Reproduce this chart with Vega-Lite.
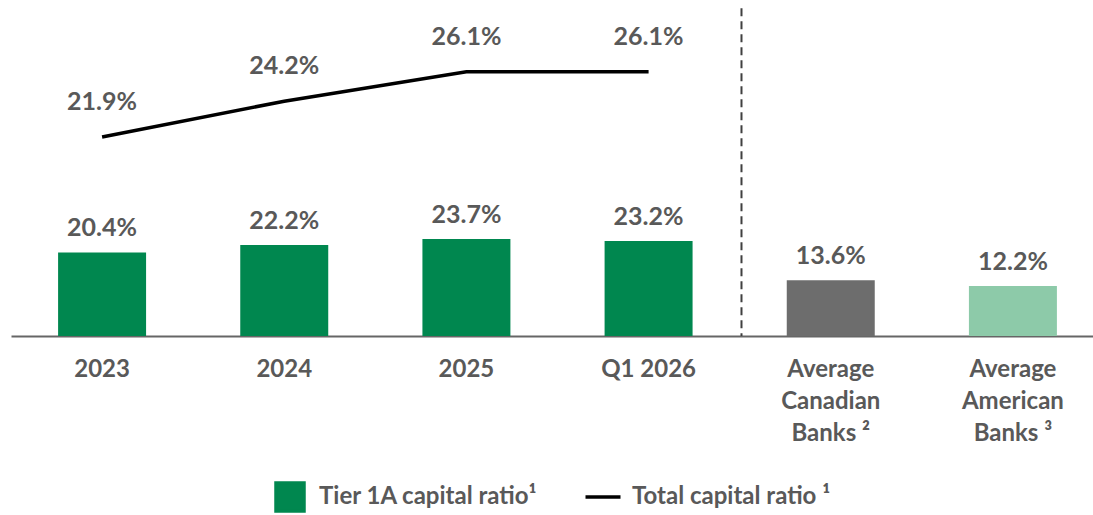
{
  "$schema": "https://vega.github.io/schema/vega-lite/v6.json",
  "autosize": {"type": "none"},
  "width": 1082,
  "height": 336,
  "padding": {"left": 11, "top": 0, "right": 0, "bottom": 179},
  "background": "white",
  "config": {
    "view": {"stroke": null},
    "font": "Lato",
    "axis": {
      "labelFont": "Lato",
      "labelFontSize": 24,
      "labelFontWeight": "bold",
      "labelColor": "#595959",
      "domainColor": "#666666",
      "domainWidth": 2,
      "ticks": false,
      "grid": false
    },
    "legend": {
      "labelFont": "Lato",
      "labelFontSize": 24,
      "labelFontWeight": "bold",
      "labelColor": "#595959",
      "labelLimit": 0,
      "layout": {"bottom": {"anchor": "middle"}}
    }
  },
  "data": {
    "values": [
      {"cat": "2023", "tier1": 0.204, "total": 0.219, "grp": "bank"},
      {"cat": "2024", "tier1": 0.222, "total": 0.242, "grp": "bank"},
      {"cat": "2025", "tier1": 0.237, "total": 0.261, "grp": "bank"},
      {"cat": "Q1 2026", "tier1": 0.232, "total": 0.261, "grp": "bank"},
      {"cat": "Average|Canadian|Banks ²", "tier1": 0.136, "total": null, "grp": "ca"},
      {"cat": "Average|American|Banks ³", "tier1": 0.122, "total": null, "grp": "us"}
    ]
  },
  "encoding": {
    "x": {
      "field": "cat",
      "type": "nominal",
      "sort": null,
      "title": null,
      "scale": {"range": [0, 1093], "paddingInner": 0, "paddingOuter": 0},
      "axis": {
        "labelAngle": 0,
        "labelPadding": 21,
        "labelLineHeight": 32,
        "labelExpr": "split(datum.label, '|')"
      }
    }
  },
  "layer": [
    {
      "layer": [
        {
          "mark": {"type": "bar", "width": {"band": 0.483}},
          "encoding": {
            "y": {
              "field": "tier1",
              "type": "quantitative",
              "scale": {"domain": [0, 0.82], "nice": false},
              "axis": null
            },
            "fill": {
              "field": "grp",
              "type": "nominal",
              "scale": {"domain": ["bank", "ca", "us"], "range": ["#00874F", "#6D6D6D", "#8DCAA9"]},
              "legend": null
            }
          }
        },
        {
          "mark": {"type": "text", "baseline": "alphabetic", "dy": -16, "fontSize": 25, "fontWeight": "bold", "color": "#595959", "font": "Lato"},
          "encoding": {
            "y": {"field": "tier1", "type": "quantitative", "axis": null},
            "text": {"field": "tier1", "type": "quantitative", "format": ".1%"}
          }
        },
        {
          "data": {"values": [{"cat": "Average|Canadian|Banks ²"}]},
          "mark": {"type": "rule", "color": "#404040", "strokeWidth": 2, "strokeDash": [8, 5]},
          "encoding": {
            "x": {"field": "cat", "type": "nominal", "bandPosition": 0.01},
            "y": {"datum": 0.8, "type": "quantitative"},
            "y2": {"datum": 0}
          }
        }
      ]
    },
    {
      "transform": [{"filter": "isValid(datum.total)"}],
      "layer": [
        {
          "mark": {"type": "line", "strokeWidth": 3.5, "strokeCap": "butt"},
          "encoding": {
            "y": {
              "field": "total",
              "type": "quantitative",
              "scale": {"domain": [0.091, 0.3071], "nice": false, "zero": false},
              "axis": null
            },
            "stroke": {
              "datum": "Total capital ratio ¹",
              "scale": {"domain": ["Tier 1A capital ratio¹", "Total capital ratio ¹"], "range": ["#00874F", "#000000"]},
              "legend": {
                "title": null,
                "orient": "bottom",
                "direction": "horizontal",
                "offset": 36,
                "labelOffset": 13,
                "columnPadding": 40,
                "labelLimit": 0,
                "symbolSize": 900,
                "symbolStrokeWidth": 3.5,
                "encode": {
                  "symbols": {
                    "update": {
                      "shape": {"signal": "datum.value === 'Total capital ratio ¹' ? 'M-1,0H1M0,-0.8M0,0.8' : 'square'"},
                      "size": {"signal": "datum.value === 'Total capital ratio ¹' ? 1225 : 784"},
                      "fill": {"signal": "datum.value === 'Total capital ratio ¹' ? 'transparent' : '#00874F'"},
                      "stroke": {"signal": "datum.value === 'Total capital ratio ¹' ? '#000000' : 'transparent'"},
                      "strokeWidth": {"value": 3.5},
                      "opacity": {"value": 1}
                    }
                  }
                }
              }
            }
          }
        },
        {
          "mark": {"type": "text", "baseline": "alphabetic", "dy": -27, "fontSize": 25, "fontWeight": "bold", "color": "#595959", "font": "Lato"},
          "encoding": {
            "y": {"field": "total", "type": "quantitative", "axis": null},
            "text": {"field": "total", "type": "quantitative", "format": ".1%"}
          }
        }
      ]
    }
  ],
  "resolve": {"scale": {"y": "independent"}}
}
